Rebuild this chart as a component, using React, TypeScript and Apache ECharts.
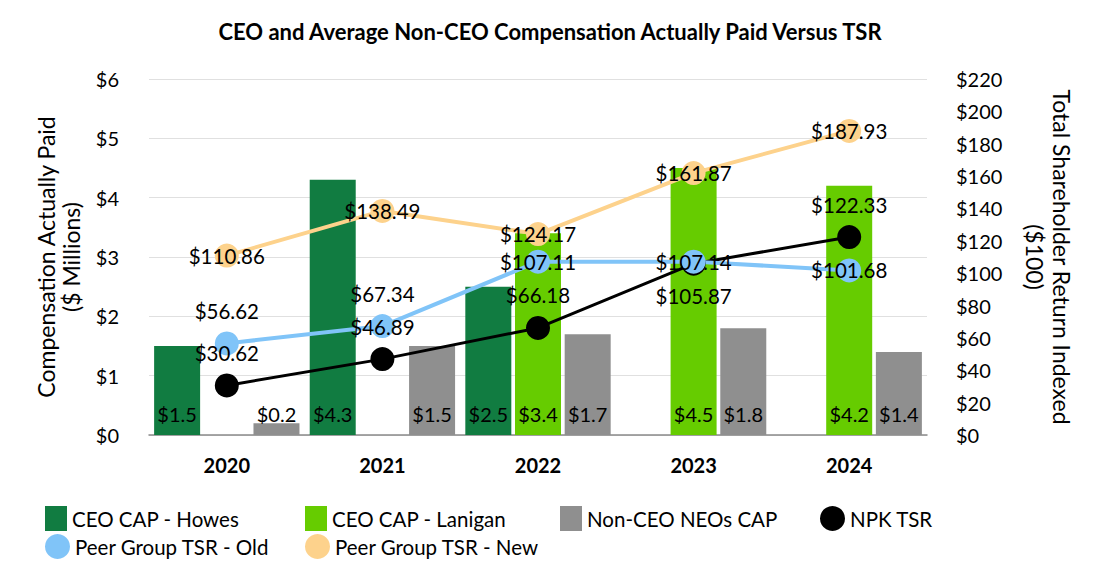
import React, { useEffect, useRef } from "react";
import * as echarts from "echarts";

const years = ["2020", "2021", "2022", "2023", "2024"];
const ceoHowes = [1.5, 4.3, 2.5, null, null];
const ceoLanigan = [null, null, 3.4, 4.5, 4.2];
const nonCeoNeos = [0.2, 1.5, 1.7, 1.8, 1.4];
const npkTsr = [30.62, 46.89, 66.18, 105.87, 122.33];
const peerOld = [56.62, 67.34, 107.11, 107.14, 101.68];
const peerNew = [110.86, 138.49, 124.17, 161.87, 187.93];

const npkLabelPos = ["top", "top", "top", "bottom", "top"];
const peerOldLabelPos = ["top", "top", "inside", "inside", "inside"];
const peerNewLabelPos = ["inside", "inside", "inside", "inside", "inside"];

const FONT = "Lato, 'Noto Sans', sans-serif";

export default function App() {
  const ref = useRef<HTMLDivElement>(null);
  useEffect(() => {
    if (!ref.current) return;
    const chart = echarts.init(ref.current, null, { renderer: "svg" });

    const barLabel = {
      show: true,
      position: "insideBottom",
      distance: 11,
      color: "#000",
      fontSize: 20,
      fontFamily: FONT,
      formatter: (p: any) => "$" + Number(p.value).toFixed(1),
    };
    const lineData = (vals: number[], pos: string[]) =>
      vals.map((v, i) => ({
        value: v,
        label: { position: pos[i] },
      }));
    const lineLabel = {
      show: true,
      color: "#000",
      fontSize: 20.5,
      fontFamily: FONT,
      distance: 10,
      formatter: (p: any) => "$" + Number(p.value).toFixed(2),
    };
    const legendText = { fontSize: 20.5, color: "#000", fontFamily: FONT };
    const mkLegend = (name: string, left: number, top: number, icon: string, w: number) => ({
      data: [{ name, icon }],
      left,
      top,
      itemWidth: w,
      itemHeight: 25,
      textStyle: legendText,
      selectedMode: false,
    });

    chart.setOption({
      animation: false,
      backgroundColor: "#fff",
      textStyle: { fontFamily: FONT },
      title: {
        text: "CEO and Average Non-CEO Compensation Actually Paid Versus TSR",
        left: "center",
        top: 15,
        textStyle: { fontSize: 22, fontWeight: "bold", color: "#000", fontFamily: FONT },
      },
      legend: [
        mkLegend("CEO CAP - Howes", 40, 501, "rect", 22),
        mkLegend("CEO CAP - Lanigan", 300, 501, "rect", 22),
        mkLegend("Non-CEO NEOs CAP", 555, 501, "rect", 22),
        mkLegend("NPK TSR", 815, 501, "circle", 25),
        mkLegend("Peer Group TSR - Old", 40, 529, "circle", 25),
        mkLegend("Peer Group TSR - New", 300, 529, "circle", 25),
      ],
      grid: { left: 149, right: 173, top: 79, bottom: 141 },
      xAxis: {
        type: "category",
        data: years,
        axisTick: { show: false },
        axisLine: { lineStyle: { color: "#8a8a8a", width: 1.5 } },
        axisLabel: { fontSize: 20, fontWeight: "bold", color: "#000", margin: 20, fontFamily: FONT },
      },
      yAxis: [
        {
          type: "value",
          min: 0,
          max: 6,
          interval: 1,
          name: "Compensation Actually Paid\n($ Millions)",
          nameLocation: "middle",
          nameGap: 66,
          nameTextStyle: { fontSize: 23, color: "#000", fontFamily: FONT, lineHeight: 25 },
          axisLine: { show: false },
          axisTick: { show: false },
          splitLine: { lineStyle: { color: "#e0e0e0", width: 1 } },
          axisLabel: {
            fontSize: 20,
            color: "#000",
            margin: 30,
            fontFamily: FONT,
            formatter: (v: number) => "$" + v,
          },
        },
        {
          type: "value",
          min: 0,
          max: 220,
          interval: 20,
          name: "Total Shareholder Return Indexed\n($100)",
          nameLocation: "middle",
          nameRotate: -90,
          nameGap: 94,
          nameTextStyle: { fontSize: 23, color: "#000", fontFamily: FONT, lineHeight: 27 },
          axisLine: { show: false },
          axisTick: { show: false },
          splitLine: { show: false },
          axisLabel: {
            fontSize: 20,
            color: "#000",
            margin: 29,
            fontFamily: FONT,
            formatter: (v: number) => "$" + v,
          },
        },
      ],
      series: [
        {
          name: "CEO CAP - Howes",
          type: "bar",
          data: ceoHowes,
          barWidth: 46,
          barGap: "8%",
          itemStyle: { color: "#117c41" },
          label: barLabel,
        },
        {
          name: "CEO CAP - Lanigan",
          type: "bar",
          data: ceoLanigan,
          barWidth: 46,
          barGap: "8%",
          itemStyle: { color: "#66cc00" },
          label: barLabel,
        },
        {
          name: "Non-CEO NEOs CAP",
          type: "bar",
          data: nonCeoNeos,
          barWidth: 46,
          barGap: "8%",
          itemStyle: { color: "#8f8f8f" },
          label: barLabel,
        },
        {
          name: "NPK TSR",
          type: "line",
          yAxisIndex: 1,
          data: lineData(npkTsr, npkLabelPos),
          symbol: "circle",
          symbolSize: 24,
          lineStyle: { color: "#000", width: 3 },
          itemStyle: { color: "#000" },
          label: lineLabel,
        },
        {
          name: "Peer Group TSR - Old",
          type: "line",
          yAxisIndex: 1,
          data: lineData(peerOld, peerOldLabelPos),
          symbol: "circle",
          symbolSize: 24,
          lineStyle: { color: "#80c4f8", width: 4 },
          itemStyle: { color: "#80c4f8" },
          label: lineLabel,
        },
        {
          name: "Peer Group TSR - New",
          type: "line",
          yAxisIndex: 1,
          data: lineData(peerNew, peerNewLabelPos),
          symbol: "circle",
          symbolSize: 24,
          lineStyle: { color: "#fdd28c", width: 4 },
          itemStyle: { color: "#fdd28c" },
          label: lineLabel,
        },
      ],
    });
    return () => chart.dispose();
  }, []);
  return (
    <div
      ref={ref}
      style={{ position: "fixed", left: 0, top: 0, width: 1100, height: 576 }}
    />
  );
}
